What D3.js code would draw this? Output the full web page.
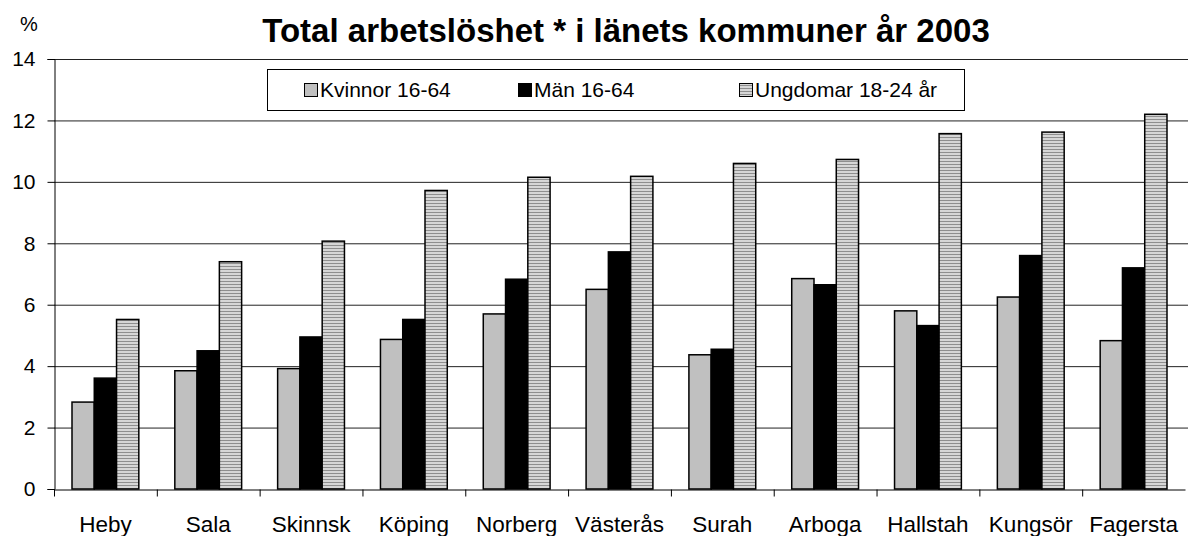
<!DOCTYPE html>
<html>
<head>
<meta charset="utf-8">
<script src="https://cdn.jsdelivr.net/npm/d3@7"></script>
<style>
  body { margin: 0; background: #fff; }
  text { font-family: "Liberation Sans", Arial, sans-serif; fill: #000; }
</style>
</head>
<body>
<script>
const kommuner = ['Heby', 'Sala', 'Skinnsk', 'Köping', 'Norberg', 'Västerås', 'Surah', 'Arboga', 'Hallstah', 'Kungsör', 'Fagersta']
const series = ['Kvinnor 16-64', 'Män 16-64', 'Ungdomar 18-24 år']
const kvinnor = [2.83, 3.85, 3.92, 4.87, 5.7, 6.5, 4.37, 6.85, 5.8, 6.25, 4.83]
const man = [3.61, 4.5, 4.95, 5.52, 6.83, 7.72, 4.55, 6.65, 5.32, 7.6, 7.2]
const ungdomar = [5.52, 7.4, 8.07, 9.72, 10.15, 10.18, 10.6, 10.73, 11.57, 11.62, 12.2]
const yTicks = [0, 2, 4, 6, 8, 10, 12, 14]
const title = 'Total arbetslöshet * i länets kommuner år 2003'

const values = [kvinnor, man, ungdomar]
const fills = ['#c0c0c0', '#000000', 'url(#stripes)']

const width = 1188, height = 536
const margin = {left: 54, right: 0, top: 59, bottom: 47}

const svg = d3.select('body').append('svg').attr('width', width).attr('height', height)

const defs = svg.append('defs')
const pat = defs.append('pattern')
  .attr('id', 'stripes').attr('patternUnits', 'userSpaceOnUse')
  .attr('width', 6).attr('height', 3)
pat.append('rect').attr('width', 6).attr('height', 3).attr('fill', '#d6d6d6')
pat.append('rect').attr('y', 2).attr('width', 6).attr('height', 1).attr('fill', '#8e8e8e')

const x = d3.scaleBand()
  .domain(kommuner)
  .range([margin.left, width - margin.right - 3])

const xSub = d3.scaleBand()
  .domain(series)
  .range([18, x.bandwidth() - 18])

const y = d3.scaleLinear()
  .domain([0, 14])
  .range([height - margin.bottom, margin.top])

// gridlines
svg.append('g')
  .selectAll('line')
  .data(yTicks.filter(t => t > 0))
  .enter().append('line')
  .attr('x1', margin.left).attr('x2', width)
  .attr('y1', d => y(d) + 0.5).attr('y2', d => y(d) + 0.5)
  .attr('stroke', '#222').attr('stroke-width', 1)

// bars
const groups = svg.append('g')
  .selectAll('g')
  .data(kommuner)
  .enter().append('g')
  .attr('transform', d => `translate(${x(d)},0)`)

groups.selectAll('rect')
  .data((d, i) => series.map((s, j) => ({s, v: values[j][i], fill: fills[j]})))
  .enter().append('rect')
  .attr('x', d => xSub(d.s))
  .attr('y', d => y(d.v))
  .attr('width', xSub.bandwidth())
  .attr('height', d => y(0) - y(d.v))
  .attr('fill', d => d.fill)
  .attr('stroke', '#000').attr('stroke-width', 1.5)

// y axis
const yAxis = d3.axisLeft(y).tickValues(yTicks).tickSize(7).tickPadding(12).tickFormat(d3.format('d'))
const yG = svg.append('g')
  .attr('transform', `translate(${margin.left + 0.5},0)`)
  .call(yAxis)
yG.select('.domain').attr('stroke', '#000')
yG.selectAll('.tick line').attr('stroke', '#000')
yG.selectAll('.tick text').attr('font-size', 21).style('font-family', '"Liberation Sans", Arial, sans-serif')

// x axis
const xAxis = d3.axisBottom(x).tickSize(0)
const xG = svg.append('g')
  .attr('transform', `translate(0,${y(0) + 0.5})`)
  .call(xAxis)
xG.select('.domain').attr('stroke', '#000')
xG.selectAll('.tick text')
  .attr('y', 42).attr('dy', 0)
  .attr('font-size', 22.5).style('font-family', '"Liberation Sans", Arial, sans-serif')
xG.selectAll('.sep')
  .data(kommuner)
  .enter().append('line')
  .attr('class', 'sep')
  .attr('x1', d => x(d) + 0.5).attr('x2', d => x(d) + 0.5)
  .attr('y1', 0).attr('y2', 7)
  .attr('stroke', '#000')

// title and unit
svg.append('text')
  .attr('x', 626).attr('y', 42)
  .attr('text-anchor', 'middle')
  .attr('font-size', 33).attr('font-weight', 'bold')
  .text(title)

svg.append('text')
  .attr('x', 29).attr('y', 31)
  .attr('text-anchor', 'middle')
  .attr('font-size', 20)
  .text('%')

// legend
const legend = svg.append('g')
legend.append('rect')
  .attr('x', 267.5).attr('y', 69.5).attr('width', 697).attr('height', 41)
  .attr('fill', '#fff').attr('stroke', '#000').attr('stroke-width', 1)

const legendX = [304, 518, 739]
const items = legend.selectAll('.item')
  .data(series)
  .enter().append('g')
  .attr('class', 'item')
  .attr('transform', (d, i) => `translate(${legendX[i]},83)`)
items.append('rect')
  .attr('x', 0.5).attr('y', 0.5).attr('width', 13).attr('height', 13)
  .attr('fill', (d, i) => fills[i])
  .attr('stroke', '#000').attr('stroke-width', 1)
items.append('text')
  .attr('x', 16).attr('y', 14)
  .attr('font-size', 21)
  .text(d => d)
</script>
</body>
</html>
